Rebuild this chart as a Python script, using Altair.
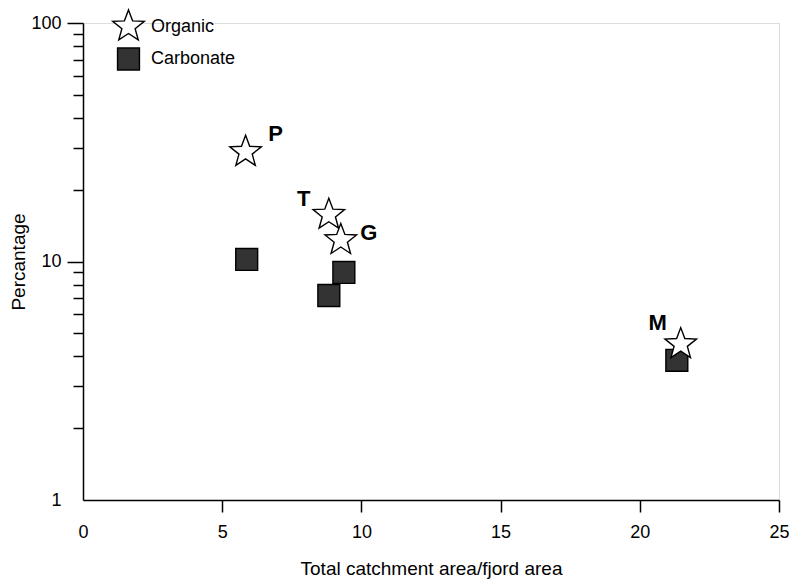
import altair as alt
import pandas as pd

# ---- data ----
fjords = ["P", "T", "G", "M"]
organic_x = [5.84, 8.83, 9.26, 21.47]
organic_y = [28.8, 15.7, 12.3, 4.5]
carbonate_x = [5.88, 8.83, 9.37, 21.33]
carbonate_y = [10.2, 7.2, 9.0, 3.85]
series_names = ["Organic", "Carbonate"]
x_ticks = [0, 5, 10, 15, 20, 25]
y_ticks = [1, 2, 3, 4, 5, 6, 7, 8, 9, 10, 20, 30, 40, 50, 60, 70, 80, 90, 100]

rows = []
for f, x, y in zip(fjords, carbonate_x, carbonate_y):
    rows.append({"fjord": f, "ratio": x, "pct": y, "series": "Carbonate", "ord": 0})
for f, x, y in zip(fjords, organic_x, organic_y):
    rows.append({"fjord": f, "ratio": x, "pct": y, "series": "Organic", "ord": 1})
df = pd.DataFrame(rows)
lab_df = pd.DataFrame({"fjord": fjords, "ratio": organic_x, "pct": organic_y})

STAR = ("M0,-1L0.2469,-0.3398L0.9511,-0.309L0.3995,0.1298L0.5878,0.809L0,0.42"
        "L-0.5878,0.809L-0.3995,0.1298L-0.9511,-0.309L-0.2469,-0.3398Z")
FONT = "Liberation Sans"

xscale = alt.Scale(domain=[0, 25], nice=False, zero=False)
yscale = alt.Scale(type="log", domain=[1, 100], nice=False)

xaxis = alt.Axis(values=x_ticks, title="Total catchment area/fjord area", grid=False,
                 tickSize=12, tickColor="black", tickWidth=1.5, domainColor="black",
                 tickOpacity={"condition": {"test": "datum.value == 0", "value": 0}, "value": 1},
                 domainWidth=1.5, labelFont=FONT, labelFontSize=18, labelColor="black",
                 labelPadding=11, titleFont=FONT, titleFontSize=19, titleFontWeight="normal",
                 titleColor="black", titlePadding=18, labelFlush=False)
decade = "datum.value == 1 || datum.value == 10 || datum.value == 100"
yaxis = alt.Axis(values=y_ticks, title="Percantage", grid=False,
                 tickSize={"condition": {"test": decade, "value": 16}, "value": 10},
                 tickOpacity={"condition": {"test": "datum.value == 1", "value": 0}, "value": 1},
                 tickColor="black", tickWidth=1.5, domainColor="black", domainWidth=1.5,
                 labelExpr=f"({decade}) ? datum.label : ''", labelFont=FONT,
                 labelFontSize=18, labelColor="black", labelPadding=6,
                 titleFont=FONT, titleFontSize=19, titleFontWeight="normal",
                 titleColor="black", titlePadding=2, labelFlush=False)

leg = alt.Legend(title=None, orient="none", legendX=28, legendY=-14,
                 labelFont=FONT, labelFontSize=18, labelColor="black",
                 symbolStrokeWidth=1.4, labelOffset=5, rowPadding=2)

points = alt.Chart(df).mark_point(filled=True, strokeWidth=1.4, opacity=1).encode(
    x=alt.X("ratio:Q", scale=xscale, axis=xaxis),
    y=alt.Y("pct:Q", scale=yscale, axis=yaxis),
    shape=alt.Shape("series:N", scale=alt.Scale(domain=series_names, range=[STAR, "square"]),
                    legend=leg),
    fill=alt.Fill("series:N", scale=alt.Scale(domain=series_names, range=["white", "#333333"]),
                  legend=leg),
    stroke=alt.Stroke("series:N", scale=alt.Scale(domain=series_names, range=["black", "black"]),
                      legend=leg),
    size=alt.Size("series:N", scale=alt.Scale(domain=series_names, range=[1100, 480]),
                  legend=leg),
    order=alt.Order("ord:Q"),
)

offsets = {"P": (30, -18), "T": (-25, -16), "G": (28, -7), "M": (-23, -21)}
labels = []
for f in fjords:
    dx, dy = offsets[f]
    labels.append(
        alt.Chart(lab_df).transform_filter(alt.datum.fjord == f)
        .mark_text(font=FONT, fontSize=22, fontWeight="bold", color="black",
                   dx=dx, dy=dy, align="center", baseline="middle")
        .encode(x=alt.X("ratio:Q", scale=xscale), y=alt.Y("pct:Q", scale=yscale),
                text="fjord:N")
    )

chart = alt.layer(points, *labels).properties(
    width=696, height=477,
    autosize=alt.AutoSizeParams(type="none"),
    padding={"left": 75, "top": 15, "right": 10, "bottom": 79},
).configure_view(stroke=None).configure(background="white")

chart.save("out.html", embed_options={"renderer": "svg", "actions": False})
